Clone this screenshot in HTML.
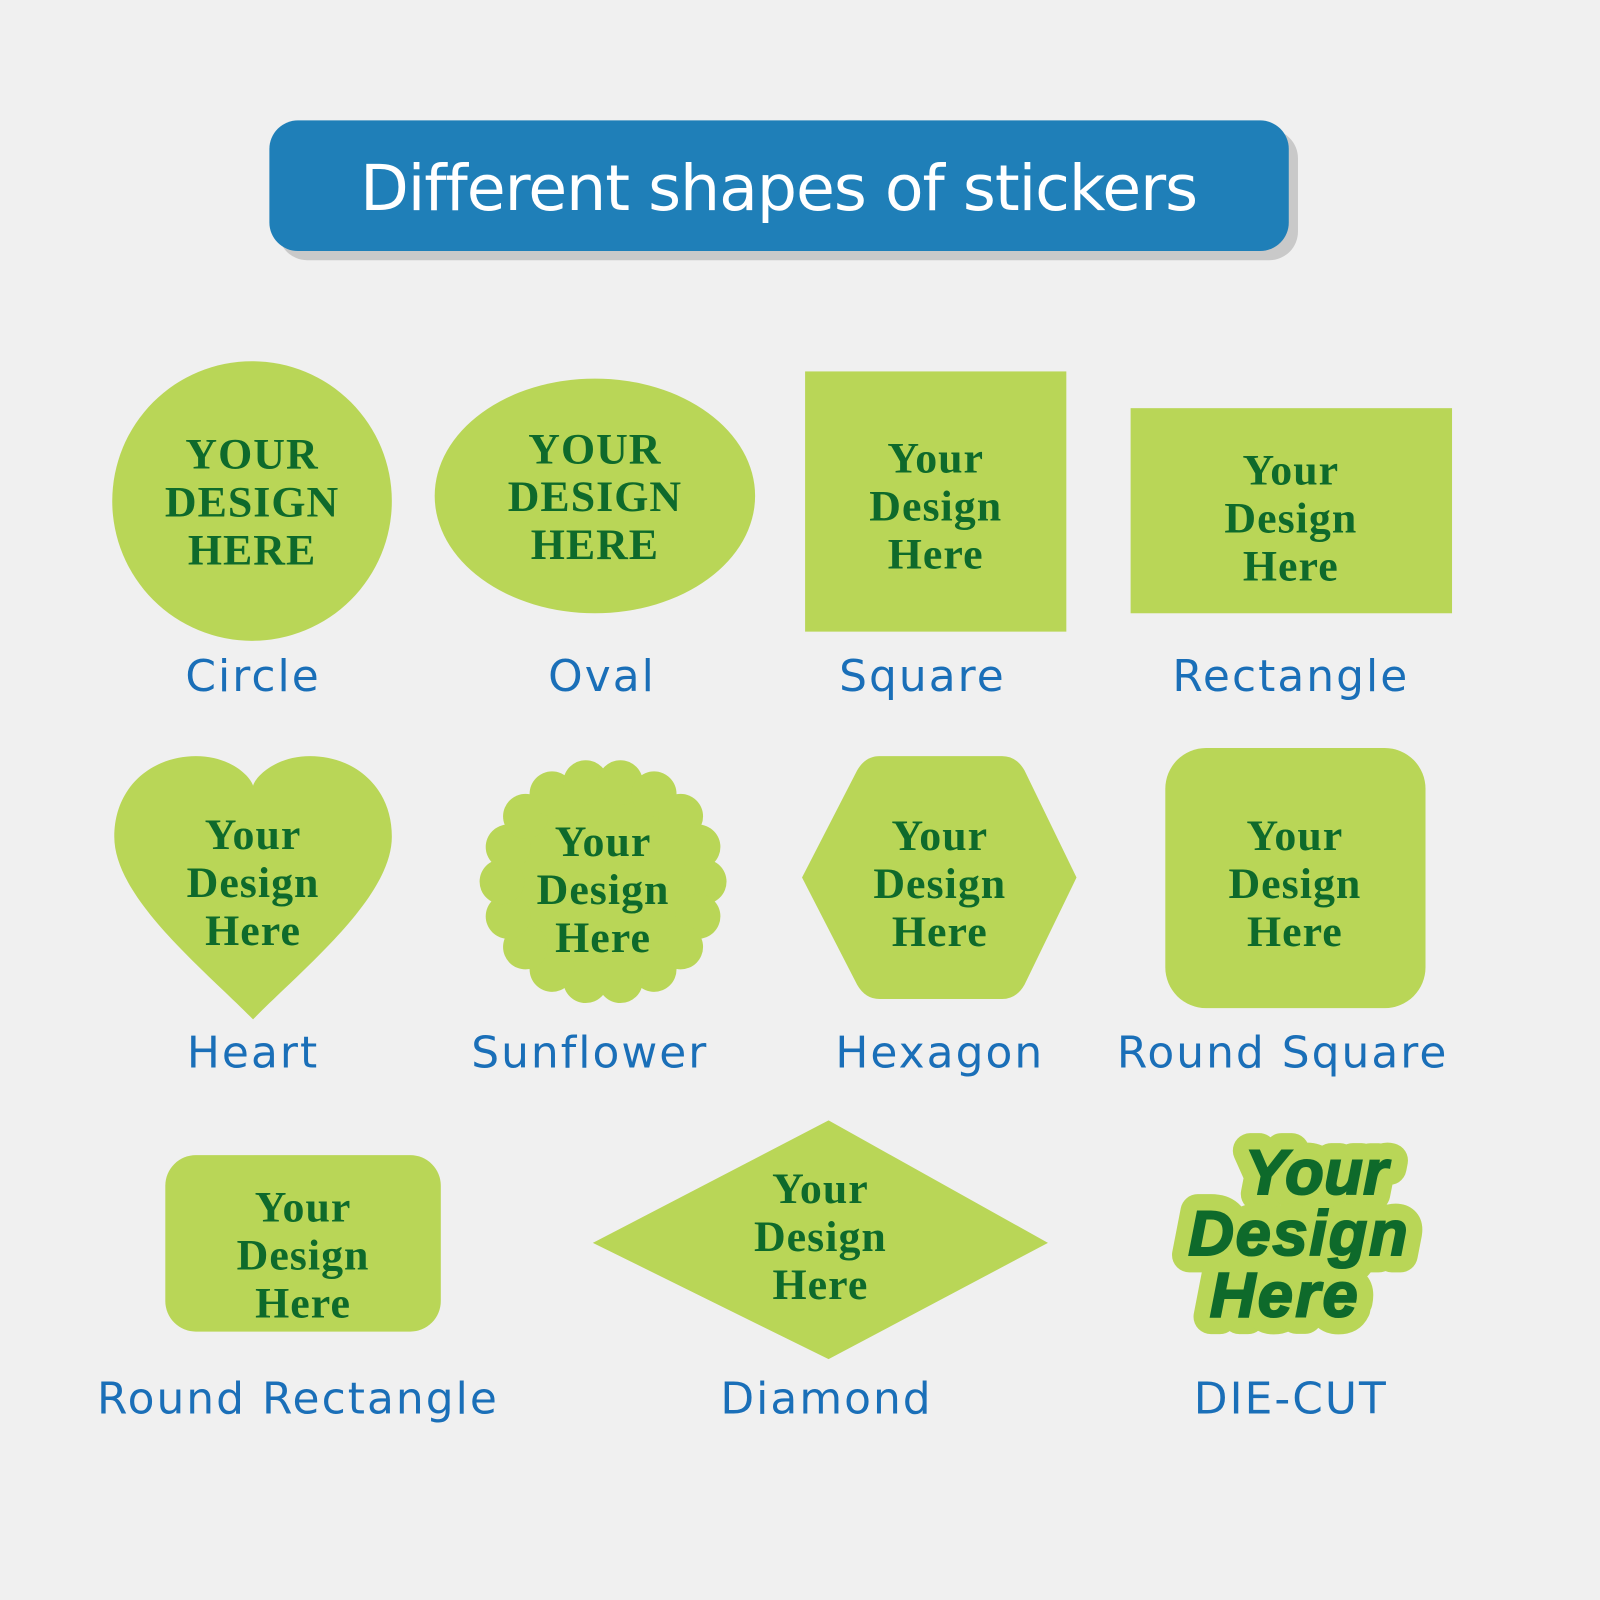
<!DOCTYPE html>
<html><head><meta charset="utf-8"><style>
html,body{margin:0;padding:0;background:#f0f0f0;}
svg{display:block}
.s{font-family:"Liberation Serif",serif;font-weight:bold;font-size:43px;fill:#0e6a2b;text-anchor:middle;letter-spacing:1px}
.l{font-family:"DejaVu Sans","Liberation Sans",sans-serif;font-size:43px;fill:#1a6fb8;text-anchor:middle;letter-spacing:2px}
.g{fill:#b9d657}
.d{font-family:"Liberation Sans",sans-serif;font-weight:bold;font-style:italic;font-size:62px;text-anchor:middle}
</style></head><body>
<svg width="1600" height="1600" viewBox="0 0 1568 1568" xmlns="http://www.w3.org/2000/svg">
<rect width="1568" height="1568" fill="#f0f0f0"/>
<rect x="273" y="127" width="999" height="128" rx="28" fill="#c9c9c9"/>
<rect x="264" y="118" width="999" height="128" rx="28" fill="#1f7fb8"/>
<text x="763" y="206" text-anchor="middle" font-family="DejaVu Sans,Liberation Sans,sans-serif" font-size="62" fill="#fff" letter-spacing="-1">Different shapes of stickers</text>

<circle class="g" cx="247" cy="491" r="137"/>
<text class="s" x="247" y="459">YOUR</text><text class="s" x="247" y="506">DESIGN</text><text class="s" x="247" y="553">HERE</text>
<ellipse class="g" cx="583" cy="486" rx="157" ry="115"/>
<text class="s" x="583" y="454">YOUR</text><text class="s" x="583" y="501">DESIGN</text><text class="s" x="583" y="548">HERE</text>
<rect class="g" x="789" y="364" width="256" height="255"/>
<text class="s" x="917" y="463">Your</text><text class="s" x="917" y="510">Design</text><text class="s" x="917" y="557">Here</text>
<rect class="g" x="1108" y="400" width="315" height="201"/>
<text class="s" x="1265" y="475">Your</text><text class="s" x="1265" y="522">Design</text><text class="s" x="1265" y="569">Here</text>
<text class="l" x="248" y="677">Circle</text>
<text class="l" x="590" y="677">Oval</text>
<text class="l" x="904" y="677">Square</text>
<text class="l" x="1265" y="677">Rectangle</text>

<path class="g" d="M248,999 C200,950 112,880 112,820 C112,770 150,741 192,741 C225,741 245,760 248,770 C251,760 271,741 304,741 C346,741 384,770 384,820 C384,880 296,950 248,999Z"/>
<text class="s" x="248" y="832">Your</text><text class="s" x="248" y="879">Design</text><text class="s" x="248" y="926">Here</text>
<g class="g">
<circle cx="591" cy="864" r="102"/>
<circle cx="690" cy="864" r="22"/><circle cx="684" cy="898" r="22"/><circle cx="667" cy="928" r="22"/><circle cx="641" cy="950" r="22"/>
<circle cx="608" cy="961" r="22"/><circle cx="574" cy="961" r="22"/><circle cx="541" cy="950" r="22"/><circle cx="515" cy="928" r="22"/>
<circle cx="498" cy="898" r="22"/><circle cx="492" cy="864" r="22"/><circle cx="498" cy="830" r="22"/><circle cx="515" cy="800" r="22"/>
<circle cx="541" cy="778" r="22"/><circle cx="574" cy="767" r="22"/><circle cx="608" cy="767" r="22"/><circle cx="641" cy="778" r="22"/>
<circle cx="667" cy="800" r="22"/><circle cx="684" cy="830" r="22"/>
</g>
<text class="s" x="591" y="839">Your</text><text class="s" x="591" y="886">Design</text><text class="s" x="591" y="933">Here</text>
<path class="g" d="M786,860 L840,755 Q848,741 862,741 L982,741 Q996,741 1004,755 L1055,860 L1004,965 Q996,979 982,979 L862,979 Q848,979 840,965 Z"/>
<text class="s" x="921" y="833">Your</text><text class="s" x="921" y="880">Design</text><text class="s" x="921" y="927">Here</text>
<rect class="g" x="1142" y="733" width="255" height="255" rx="40"/>
<text class="s" x="1269" y="833">Your</text><text class="s" x="1269" y="880">Design</text><text class="s" x="1269" y="927">Here</text>
<text class="l" x="248" y="1046">Heart</text>
<text class="l" x="578" y="1046">Sunflower</text>
<text class="l" x="921" y="1046">Hexagon</text>
<text class="l" x="1257" y="1046">Round Square</text>

<rect class="g" x="162" y="1132" width="270" height="173" rx="30"/>
<text class="s" x="297" y="1197">Your</text><text class="s" x="297" y="1244">Design</text><text class="s" x="297" y="1291">Here</text>
<path class="g" d="M581,1218 L812,1098 L1027,1218 L812,1332 Z"/>
<text class="s" x="804" y="1179">Your</text><text class="s" x="804" y="1226">Design</text><text class="s" x="804" y="1273">Here</text>
<g class="d" fill="#b9d657" stroke="#b9d657" stroke-width="34" stroke-linejoin="round">
<text x="1290" y="1170" textLength="140">Your</text><text x="1272" y="1230" textLength="215">Design</text><text x="1258" y="1290" textLength="145">Here</text>
</g>
<g class="d" fill="#0e6a2b" stroke="#0e6a2b" stroke-width="2">
<text x="1290" y="1170" textLength="140">Your</text><text x="1272" y="1230" textLength="215">Design</text><text x="1258" y="1290" textLength="145">Here</text>
</g>
<text class="l" x="292" y="1385">Round Rectangle</text>
<text class="l" x="810" y="1385">Diamond</text>
<text class="l" x="1265" y="1385">DIE-CUT</text>
</svg>
</body></html>
